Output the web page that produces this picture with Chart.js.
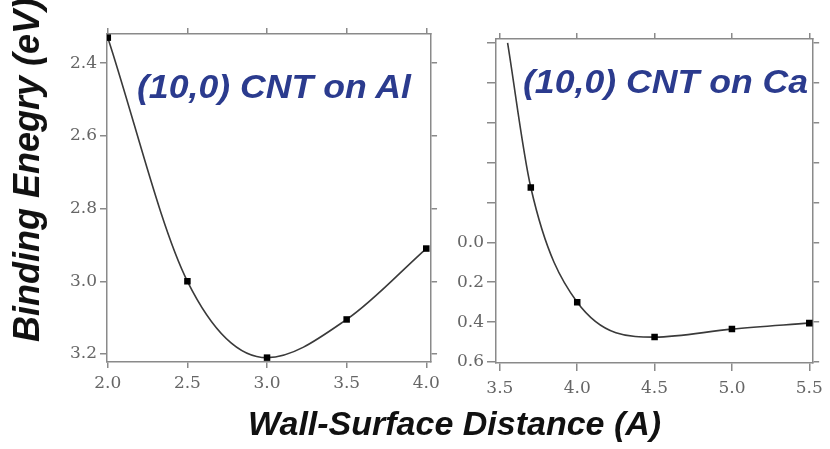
<!DOCTYPE html>
<html>
<head>
<meta charset="utf-8">
<script src="https://cdn.jsdelivr.net/npm/chart.js@4.4.1/dist/chart.umd.min.js"></script>
<style>
  body { margin: 0; background: #fff; width: 830px; height: 449px; overflow: hidden; position: relative;
         font-family: "Liberation Sans", Arial, sans-serif; }
  .box { position: absolute; }
  .t { position: absolute; white-space: nowrap; font-weight: bold; font-style: italic; }
  .panel { font-size: 33px; line-height: 33px; color: #2b3b8e; transform: scaleX(1.08); transform-origin: 0 0; }
</style>
</head>
<body>
<div class="box" style="left:40px;top:20px;"><canvas id="chartAl" width="405" height="400"></canvas></div>
<div class="box" style="left:450px;top:20px;"><canvas id="chartCa" width="380" height="400"></canvas></div>

<div class="t" style="left:27px;top:170px;font-size:36px;line-height:36px;color:#111;transform:translate(-50%,-50%) rotate(-90deg);">Binding Enegry (eV)</div>
<div class="t" style="left:248px;top:406px;font-size:34px;line-height:34px;color:#111;">Wall-Surface Distance (A)</div>
<div class="t panel" style="left:137px;top:70px;">(10,0) CNT on Al</div>
<div class="t panel" style="left:523px;top:65px;">(10,0) CNT on Ca</div>

<script>
// values
const alDistance = [2.0, 2.5, 3.0, 3.5, 4.0];
const alEnergy = [2.33, 3.0, 3.21, 3.105, 2.91];

const caDistance = [3.7, 4.0, 4.5, 5.0, 5.5];
const caEnergy = [-0.275, 0.30, 0.475, 0.435, 0.405];
// where the fitted curve enters the Ca panel at the top
const caFitStartX = 3.55;
const caFitStartY = -1.0;

const alRangeX = [1.995, 4.03];
const alRangeY = [2.32, 3.222];
const caRangeX = [3.475, 5.525];
const caRangeY = [-1.02, 0.605];

const axisGrey = '#8a8a8a';
const tickFont = { family: 'DejaVu Serif', size: 17 };

function pts(xs, ys) {
    return xs.map((x, i) => ({ x: x, y: ys[i] }));
}

function fmt(v) {
    if (Math.abs(v) < 1e-9) return '0.0';
    return v.toFixed(1);
}

// one axis of the framed box; sizes are fixed so both panels line up with the picture
function axis(pos, range, size, opts) {
    const horizontal = pos === 'top' || pos === 'bottom';
    return Object.assign({
        type: 'linear',
        position: pos,
        min: range[0],
        max: range[1],
        afterFit: s => { if (horizontal) s.height = size; else s.width = size; },
        border: { color: axisGrey, width: 1.5 },
        grid: { drawOnChartArea: false, color: axisGrey, lineWidth: 1.5, tickLength: opts.tick },
        ticks: {
            stepSize: opts.step,
            includeBounds: false,
            display: opts.labels !== false,
            font: tickFont,
            color: '#666',
            padding: opts.pad || 3,
            maxRotation: 0,
            callback: opts.cb || fmt
        }
    }, opts.extra || {});
}

function makeChart(id, fitData, markData, sx, sy) {
    new Chart(document.getElementById(id), {
        type: 'scatter',
        data: {
            datasets: [{
                data: fitData,
                showLine: true,
                cubicInterpolationMode: 'monotone',
                borderColor: '#3a3a3a',
                borderWidth: 1.6,
                pointRadius: 0,
                order: 2
            }, {
                data: markData,
                pointStyle: 'rect',
                pointRadius: 4.6,
                backgroundColor: '#000',
                borderColor: '#000',
                borderWidth: 0,
                order: 1
            }]
        },
        options: {
            responsive: false,
            animation: false,
            layout: { padding: 0 },
            plugins: { legend: { display: false }, tooltip: { enabled: false } },
            scales: { x: sx.bottom, xTop: sx.top, y: sy.left, yRight: sy.right }
        }
    });
}

const alPts = pts(alDistance, alEnergy);
makeChart('chartAl', alPts, alPts,
    {
        bottom: axis('bottom', alRangeX, 58, { step: 0.5, tick: 6, pad: 5 }),
        top: axis('top', alRangeX, 14, { step: 0.5, tick: 6, labels: false })
    },
    {
        left: axis('left', alRangeY, 67, { step: 0.2, tick: 7, extra: { reverse: true } }),
        right: axis('right', alRangeY, 13, { step: 0.2, tick: 6, labels: false, extra: { reverse: true } })
    });

const caPts = pts(caDistance, caEnergy);
const caFit = [{ x: caFitStartX, y: caFitStartY }].concat(caPts);
const caLabel = v => (v < -1e-9 ? '' : fmt(v));
makeChart('chartCa', caFit, caPts,
    {
        bottom: axis('bottom', caRangeX, 57, { step: 0.5, tick: 8, pad: 7 }),
        top: axis('top', caRangeX, 19, { step: 0.5, tick: 6, labels: false })
    },
    {
        left: axis('left', caRangeY, 46, { step: 0.2, tick: 9, cb: caLabel, extra: { reverse: true } }),
        right: axis('right', caRangeY, 8, { step: 0.2, tick: 6, labels: false, extra: { reverse: true } })
    });
</script>
</body>
</html>
